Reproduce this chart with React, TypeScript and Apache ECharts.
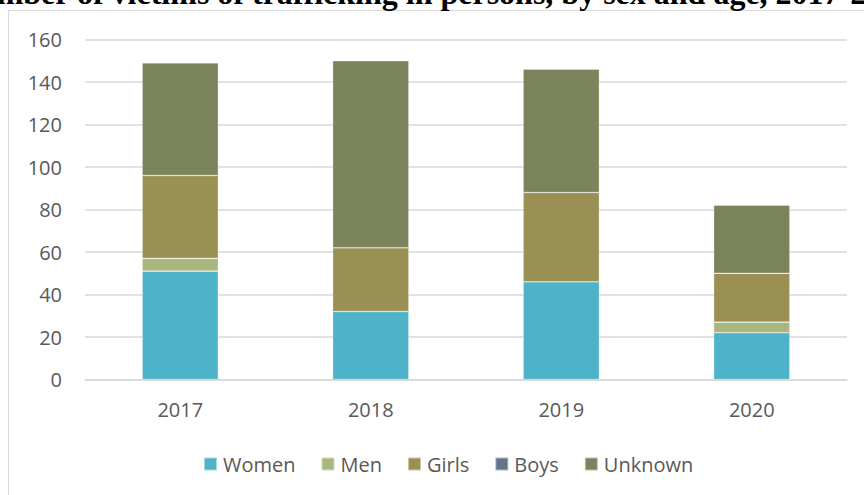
import React, { useEffect, useRef } from "react";
import * as echarts from "echarts";

const years = ["2017", "2018", "2019", "2020"];
const women = [51, 32, 46, 22];
const men = [6, 0, 0, 5];
const girls = [39, 30, 42, 23];
const boys = [0, 0, 0, 0];
const unknown = [53, 88, 58, 32];
const yTicks = { min: 0, max: 160, interval: 20 };
const titleText = "Number of victims of trafficking in persons, by sex and age, 2017-2020";

const colors = {
  Women: "#4EB3C8",
  Men: "#A7B77E",
  Girls: "#9A9054",
  Boys: "#637489",
  Unknown: "#7A835B",
};

export default function App() {
  const ref = useRef<HTMLDivElement>(null);
  useEffect(() => {
    if (!ref.current) return;
    const chart = echarts.init(ref.current, null, { renderer: "svg" });
    const font = "'Open Sans', sans-serif";
    const mk = (name: string, data: number[]) => ({
      name,
      type: "bar",
      stack: "total",
      barWidth: "40%",
      data,
      itemStyle: { color: (colors as any)[name], borderColor: "rgba(255,255,255,0.5)", borderWidth: 0.6 },
    });
    chart.setOption({
      animation: false,
      backgroundColor: "#ffffff",
      textStyle: { fontFamily: font },
      grid: { left: 85, right: 17, top: 39.5, bottom: 115.5, containLabel: false },
      xAxis: {
        type: "category",
        data: years,
        axisLine: { lineStyle: { color: "#d9d9d9", width: 1.5 } },
        axisTick: { show: false },
        axisLabel: { color: "#595959", fontSize: 20, margin: 20, fontFamily: font },
      },
      yAxis: {
        type: "value",
        min: yTicks.min,
        max: yTicks.max,
        interval: yTicks.interval,
        axisLine: { show: false },
        axisTick: { show: false },
        splitLine: { lineStyle: { color: "#d9d9d9", width: 1.5 } },
        axisLabel: { color: "#595959", fontSize: 20, margin: 23, fontFamily: font },
      },
      legend: {
        data: ["Women", "Men", "Girls", "Boys", "Unknown"],
        left: 198,
        top: 449,
        icon: "rect",
        itemWidth: 13,
        itemHeight: 13,
        itemGap: 25,
        textStyle: { color: "#595959", fontSize: 20, fontFamily: font, padding: [0, 0, 0, 1] },
      },
      graphic: [
        {
          type: "rect",
          z: 0,
          silent: true,
          shape: { x: 8.5, y: 10.5, width: 1000, height: 1000 },
          style: { fill: "none", stroke: "#d9d9d9", lineWidth: 1 },
        },
        {
          type: "text",
          z: 100,
          silent: true,
          x: 435,
          y: -7,
          style: {
            text: titleText,
            font: "bold 32px 'Liberation Serif', serif",
            fill: "#000000",
            align: "center",
            verticalAlign: "middle",
          },
        },
      ],
      series: [
        mk("Women", women),
        mk("Men", men),
        mk("Girls", girls),
        mk("Boys", boys),
        mk("Unknown", unknown),
      ],
    });
    return () => chart.dispose();
  }, []);
  return <div ref={ref} style={{ width: 864, height: 495, position: "fixed", left: 0, top: 0 }} />;
}
